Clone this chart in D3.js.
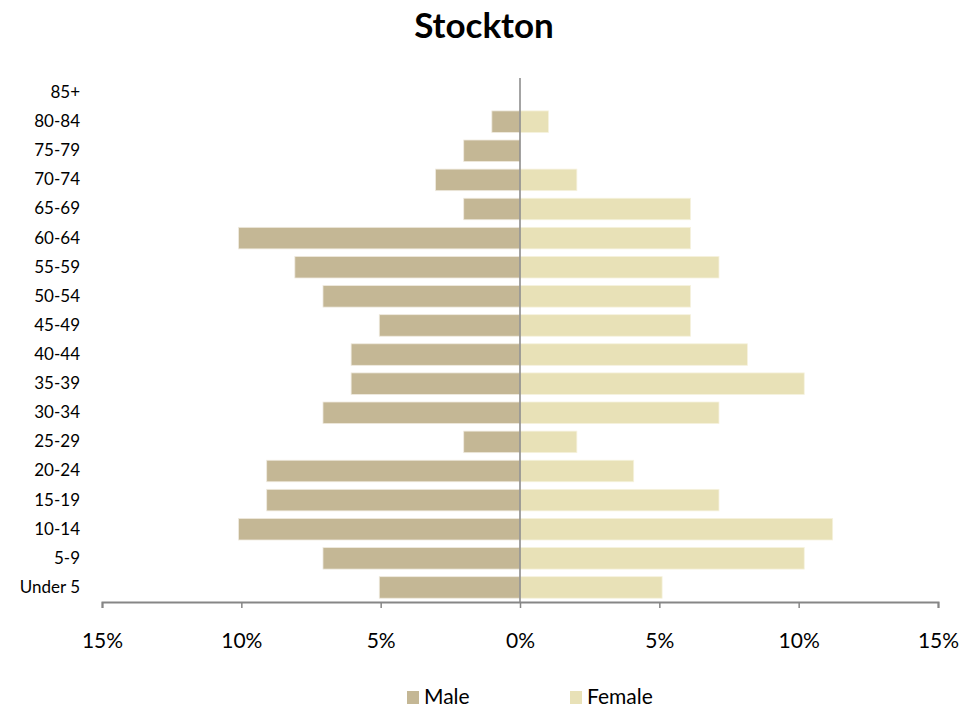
<!DOCTYPE html>
<html>
<head>
<meta charset="utf-8">
<script src="https://cdn.jsdelivr.net/npm/d3@7"></script>
<style>
  body { margin: 0; background: #fff; }
  svg text { font-family: Lato, "Open Sans", sans-serif; fill: #000; }
</style>
</head>
<body>
<div id="chart"></div>
<script>
const ageGroups = ['85+', '80-84', '75-79', '70-74', '65-69', '60-64', '55-59', '50-54', '45-49',
  '40-44', '35-39', '30-34', '25-29', '20-24', '15-19', '10-14', '5-9', 'Under 5'];

// percent of population
const male = [0, 1.01, 2.02, 3.03, 2.02, 10.1, 8.08, 7.07, 5.05,
  6.06, 6.06, 7.07, 2.02, 9.09, 9.09, 10.1, 7.07, 5.05];
const female = [0, 1.02, 0, 2.04, 6.12, 6.12, 7.14, 6.12, 6.12,
  8.16, 10.2, 7.14, 2.04, 4.08, 7.14, 11.22, 10.2, 5.1];

const xTicks = [-15, -10, -5, 0, 5, 10, 15];
const colors = { Male: '#c4b795', Female: '#e8e1b7' };

const width = 979;
const height = 713;

const svg = d3.select('#chart')
  .append('svg')
  .attr('width', width)
  .attr('height', height);

const x = d3.scaleLinear().domain([-15, 15]).range([102, 938]);
const y = d3.scaleBand().domain(ageGroups).range([78, 602]).paddingInner(0.26).paddingOuter(0.13);

// title
svg.append('text')
  .attr('x', 484)
  .attr('y', 38)
  .attr('text-anchor', 'middle')
  .style('font-size', '35px')
  .style('font-weight', 'bold')
  .text('Stockton');

const rows = ageGroups.map((g, i) => ({ group: g, male: male[i], female: female[i] }));

// male bars (left)
svg.append('g')
  .selectAll('rect')
  .data(rows)
  .join('rect')
  .attr('x', (d) => x(-d.male))
  .attr('y', (d) => y(d.group))
  .attr('width', (d) => x(0) - x(-d.male))
  .attr('height', y.bandwidth())
  .attr('fill', colors.Male)
  .attr('stroke', '#efeadf')
  .attr('stroke-width', 0.8)
  .style('display', (d) => d.male > 0 ? null : 'none');

// female bars (right)
svg.append('g')
  .selectAll('rect')
  .data(rows)
  .join('rect')
  .attr('x', x(0))
  .attr('y', (d) => y(d.group))
  .attr('width', (d) => x(d.female) - x(0))
  .attr('height', y.bandwidth())
  .attr('fill', colors.Female)
  .attr('stroke', '#f6f2de')
  .attr('stroke-width', 0.8)
  .style('display', (d) => d.female > 0 ? null : 'none');

// x axis
const xAxis = svg.append('g')
  .attr('transform', 'translate(0, 602)')
  .call(d3.axisBottom(x)
    .tickValues(xTicks)
    .tickSize(6)
    .tickPadding(25)
    .tickFormat((d) => Math.abs(d) + '%'));
xAxis.select('.domain').attr('stroke', '#868686').attr('stroke-width', 2);
xAxis.selectAll('.tick line').attr('stroke', '#868686').attr('stroke-width', 1.5);
xAxis.selectAll('.tick text')
  .style('font-size', '21px')
  .style('font-family', 'Lato, "Open Sans", sans-serif');

// vertical zero line
svg.append('line')
  .attr('x1', x(0)).attr('x2', x(0))
  .attr('y1', 78).attr('y2', 602)
  .attr('stroke', '#868686')
  .attr('stroke-width', 1.5);

// category labels
const yAxis = svg.append('g')
  .attr('transform', 'translate(80, 0)')
  .call(d3.axisLeft(y).tickSize(0).tickPadding(0));
yAxis.select('.domain').remove();
yAxis.selectAll('.tick text')
  .style('font-size', '17px')
  .style('font-family', 'Lato, "Open Sans", sans-serif');

// legend
const legendPos = [{ name: 'Male', x: 407 }, { name: 'Female', x: 570 }];
const legend = svg.append('g')
  .selectAll('g')
  .data(legendPos)
  .join('g')
  .attr('transform', (d) => `translate(${d.x}, 697)`);
legend.append('rect')
  .attr('x', 0).attr('y', -6)
  .attr('width', 12).attr('height', 13)
  .attr('fill', (d) => colors[d.name]);
legend.append('text')
  .attr('x', 17)
  .attr('dy', '0.35em')
  .style('font-size', '21px')
  .text((d) => d.name);
</script>
</body>
</html>
